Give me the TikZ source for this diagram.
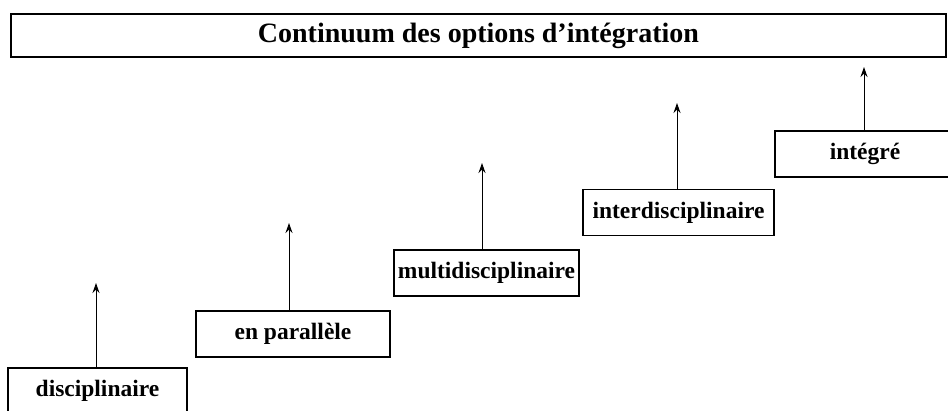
\documentclass[tikz,border=0pt]{standalone}
\usepackage{fontspec}
\setmainfont{Liberation Serif}
\usetikzlibrary{arrows.meta}
\tikzset{
  etape/.style={draw, line width=1.8pt, inner sep=0pt, minimum height=46pt,
    font=\bfseries\fontsize{23.5}{26}\selectfont},
  fleche/.style={->, line width=1pt},
  >={Stealth[length=10pt,width=7pt]}
}
\begin{document}
\begin{tikzpicture}[x=1pt,y=-1pt]
\clip (0,0) rectangle (948,411);

\node[etape, minimum width=935pt, minimum height=43pt,
  font=\bfseries\fontsize{28}{30}\selectfont] (titre) at (478.5,35.5) {Continuum des options d’intégration};

\node[etape, minimum width=179pt] (disc) at (97.5,391) {disciplinaire};
\node[etape, minimum width=194pt] (para) at (293,334) {en parallèle};
\node[etape, minimum width=185pt] (multi) at (486.5,273) {multidisciplinaire};
\node[etape, minimum width=191pt] (inter) at (678.5,212.5) {interdisciplinaire};
\node[etape, minimum width=180pt] (integ) at (865,154) {intégré};

\coordinate (h1) at (96,283);
\coordinate (h2) at (289,223);
\coordinate (h3) at (482,163);
\coordinate (h4) at (677,103);
\coordinate (h5) at (864,67);

\draw[fleche] (h1 |- disc.north) -- (h1);
\draw[fleche] (h2 |- para.north) -- (h2);
\draw[fleche] (h3 |- multi.north) -- (h3);
\draw[fleche] (h4 |- inter.north) -- (h4);
\draw[fleche] (h5 |- integ.north) -- (h5);
\end{tikzpicture}
\end{document}
